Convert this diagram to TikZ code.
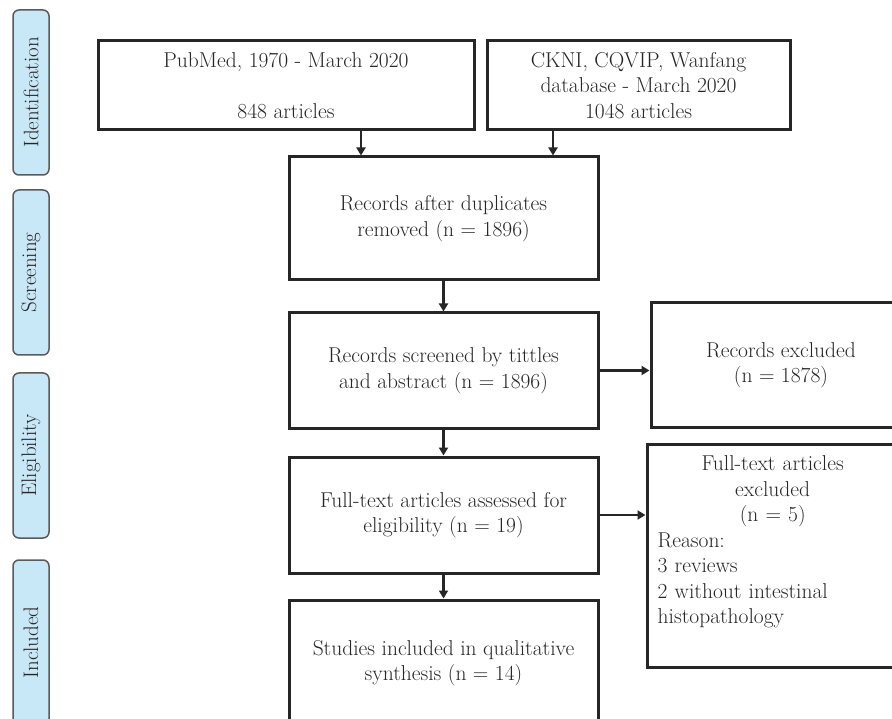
\documentclass[tikz,border=0pt]{standalone}
\usepackage{fontspec}
\usetikzlibrary{arrows.meta}

\definecolor{tabblue}{HTML}{C8E8F8}
\definecolor{tabline}{HTML}{5A5A5A}
\definecolor{ink}{HTML}{262626}

\tikzset{
  flowbox/.style={draw=ink, line width=3pt, align=center, text=ink, inner sep=0pt,
    font=\fontsize{21.5}{25.5}\selectfont},
  stagetab/.style={draw=tabline, fill=tabblue, line width=1.5pt, rounded corners=6pt,
    rotate=90, minimum width=165pt, minimum height=36pt, inner sep=0pt, text=ink,
    font=\fontsize{21}{25.5}\selectfont},
  flowarrow/.style={draw=ink, line width=2.5pt, -{Triangle[length=8pt,width=9pt]}}
}

\begin{document}
\begin{tikzpicture}[x=1pt,y=-1pt]%% prisma flow
    \useasboundingbox (0,0) rectangle (892,719);

        % stages on the left
        \node[stagetab] (identification) at (31,92.5) {Identification};
        \node[stagetab] (screening) at (31,272.5) {Screening};
        \node[stagetab] (eligibility) at (31,455.5) {Eligibility};
        \node[stagetab] (includedtab) at (31,642.5) {Included};

        % identification
        \node[flowbox, minimum width=376pt, minimum height=89pt] (pubmed) at (286,85.5)
            {PubMed, 1970 - March 2020\\[25.5pt] 848 articles};
        \node[flowbox, minimum width=303pt, minimum height=89pt] (cnki) at (638.5,85.5)
            {CKNI, CQVIP, Wanfang\\ database - March 2020\\ 1048 articles};

        % screening
        \node[flowbox, minimum width=309pt, minimum height=123pt] (dedup) at (443.5,218.5)
            {Records after duplicates\\ removed (n = 1896)};
        \node[flowbox, minimum width=309pt, minimum height=115pt] (screened) at (443.5,370.5)
            {Records screened by tittles\\ and abstract (n = 1896)};
        \node[flowbox, minimum width=260pt, minimum height=124pt] (excluded) at (781,365)
            {Records excluded\\ (n = 1878)};

        % eligibility
        \node[flowbox, minimum width=309pt, minimum height=116pt] (fulltext) at (443.5,515)
            {Full-text articles assessed for\\ eligibility (n = 19)};
        \node[flowbox, minimum width=264pt, minimum height=223pt] (ftexcl) at (779,555.5) {};
        \node[anchor=north west, text width=230pt, inner sep=0pt, align=left, text=ink,
            font=\fontsize{21.5}{25.5}\selectfont] (ftexcltext)
            at ([xshift=12pt,yshift=-13pt]ftexcl.north west)
            {{\centering Full-text articles\\ excluded\\ (n = 5)\par}
             Reason:\\ 3 reviews\\ 2 without intestinal\\ histopathology};

        % included
        \node[flowbox, minimum width=309pt, minimum height=126pt] (included) at (443.5,663)
            {Studies included in qualitative\\ synthesis (n = 14)};

        % arrows
        \draw[flowarrow] ([xshift=75pt]pubmed.south) -- ([xshift=75pt]pubmed.south |- dedup.north);
        \draw[flowarrow] ([xshift=-85.5pt]cnki.south) -- ([xshift=-85.5pt]cnki.south |- dedup.north);
        \draw[flowarrow] (dedup.south) -- (screened.north);
        \draw[flowarrow] (screened.east) -- (screened.east -| excluded.west);
        \draw[flowarrow] (screened.south) -- (fulltext.north);
        \draw[flowarrow] (fulltext.east) -- (fulltext.east -| ftexcl.west);
        \draw[flowarrow] (fulltext.south) -- (included.north);

\end{tikzpicture}
\end{document}
